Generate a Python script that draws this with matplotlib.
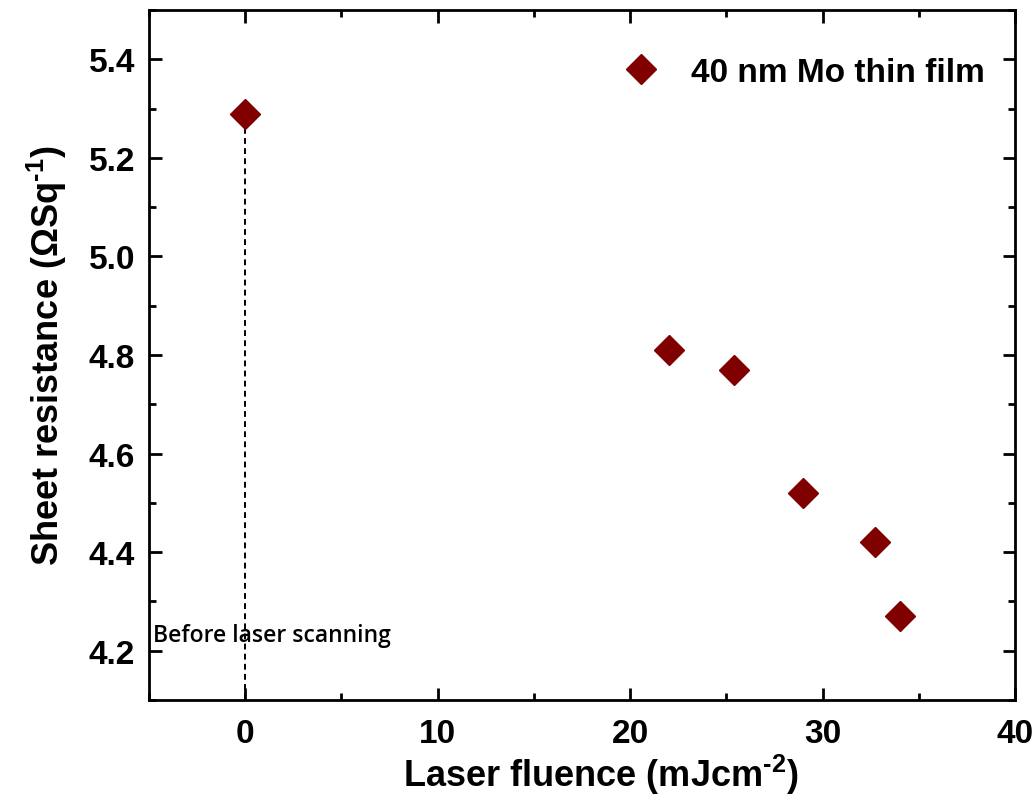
import matplotlib
matplotlib.use("Agg")
import matplotlib.pyplot as plt
from matplotlib.ticker import MultipleLocator

fluence = [0.0, 22.0, 25.4, 29.0, 32.7, 34.0]
resistance = [5.29, 4.81, 4.77, 4.52, 4.42, 4.27]
series_label = "40 nm Mo thin film"
annotation = "Before laser scanning"

plt.rcParams['font.family'] = ['Liberation Sans', 'DejaVu Sans']
plt.rcParams['mathtext.fontset'] = 'custom'
plt.rcParams['mathtext.bf'] = 'Liberation Sans:bold'
plt.rcParams['mathtext.rm'] = 'Liberation Sans:bold'
plt.rcParams['mathtext.default'] = 'bf'

fig = plt.figure(figsize=(10.35, 8.03), dpi=100)
ax = fig.add_axes([0.144, 0.127, 0.8367, 0.8593])

ax.plot([fluence[0], fluence[0]], [4.1, resistance[0]], ls=(0, (3, 2.2)), color='black', lw=1.4, zorder=1)
ax.plot(fluence, resistance, ls='none', marker='D', ms=15, color='#800000', label=series_label, zorder=3)

ax.set_xlim(-5, 40)
ax.set_ylim(4.1, 5.5)
ax.xaxis.set_major_locator(MultipleLocator(10))
ax.xaxis.set_minor_locator(MultipleLocator(5))
ax.yaxis.set_major_locator(MultipleLocator(0.2))
ax.yaxis.set_minor_locator(MultipleLocator(0.1))

ax.tick_params(which='both', direction='in', top=True, right=True, width=2)
ax.tick_params(which='major', length=9, labelsize=24)
ax.tick_params(axis='x', which='major', pad=13)
ax.tick_params(axis='y', which='major', pad=10)
ax.tick_params(which='minor', length=5)
for lbl in ax.get_xticklabels() + ax.get_yticklabels():
    lbl.set_fontweight('bold')
for sp in ax.spines.values():
    sp.set_linewidth(2)

ax.set_xlabel("Laser fluence (mJcm$^{\\text{-2}}$)", fontsize=26, fontweight='bold', labelpad=4)
ax.xaxis.set_label_coords(0.522, -0.075)
ax.set_ylabel("Sheet resistance (\u03a9Sq$^{\\text{-1}}$)", fontsize=26, fontweight='bold', labelpad=14)

ax.text(-4.8, 4.232, annotation, fontsize=16.5, fontweight='semibold',
        family=['Open Sans', 'DejaVu Sans'], va='center', ha='left')

leg = ax.legend(loc='upper right', bbox_to_anchor=(1.019, 1.0), frameon=False,
                prop={'weight': 'bold', 'size': 24},
                handletextpad=0.5, borderaxespad=1.0)

fig.savefig("out.png", dpi=100)
